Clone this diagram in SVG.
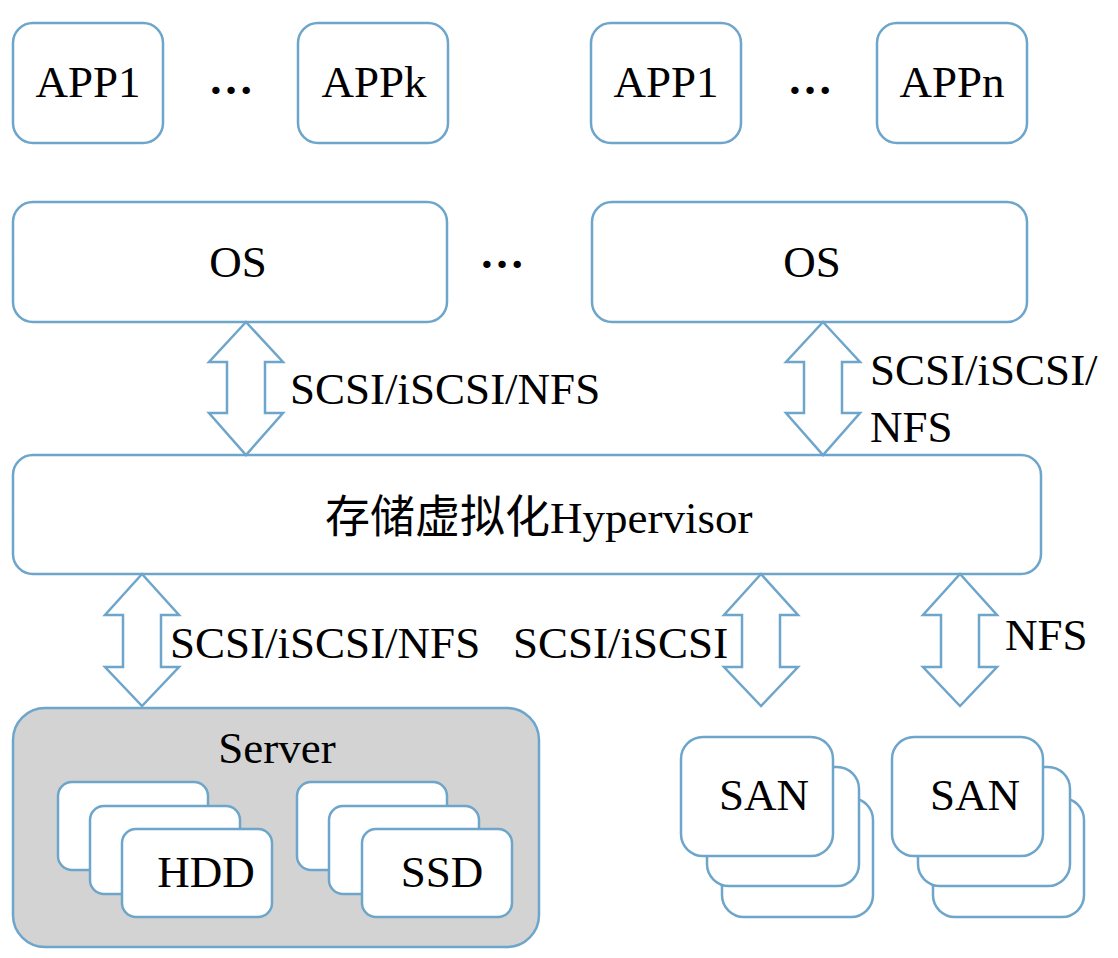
<svg xmlns="http://www.w3.org/2000/svg" width="1118" height="958" viewBox="0 0 1118 958">
<style>
.box{fill:#ffffff;stroke:#6ea5cb;stroke-width:2.5}
.srv{fill:#d3d3d3;stroke:#6ea5cb;stroke-width:2.5}
.arr{fill:#ffffff;stroke:#6ea5cb;stroke-width:2.5;stroke-linejoin:miter}
text{font-family:"Liberation Serif","Noto Sans CJK SC",serif;font-size:45px;fill:#000000}
.m{text-anchor:middle}
.d{font-weight:bold}
</style>
<rect width="1118" height="958" fill="#ffffff"/>
<g id="app1a"><rect class="box" x="13" y="23" width="150" height="120" rx="20"/><text class="m" x="88" y="97">APP1</text></g>
<g id="dots1"><text class="m d" x="231" y="94">…</text></g>
<g id="appk"><rect class="box" x="298" y="23" width="150" height="120" rx="20"/><text class="m" x="374" y="97">APPk</text></g>
<g id="app1b"><rect class="box" x="591" y="23" width="150" height="120" rx="20"/><text class="m" x="666" y="97">APP1</text></g>
<g id="dots2"><text class="m d" x="810" y="94">…</text></g>
<g id="appn"><rect class="box" x="877" y="23" width="150" height="120" rx="20"/><text class="m" x="952" y="97">APPn</text></g>
<g id="os1"><rect class="box" x="13" y="202" width="434" height="120" rx="20"/><text class="m" x="238" y="277">OS</text></g>
<g id="dots3"><text class="m d" x="502" y="268">…</text></g>
<g id="os2"><rect class="box" x="592" y="202" width="435" height="120" rx="20"/><text class="m" x="812" y="277">OS</text></g>
<g id="hypervisor"><rect class="box" x="13" y="455" width="1028" height="119" rx="20"/><text x="325" y="533">存储虚拟化Hypervisor</text></g>
<g id="server">
<rect class="srv" x="13" y="708" width="526" height="239" rx="32"/>
<text class="m" x="277" y="763">Server</text>
<rect class="box" x="58" y="782" width="150" height="88" rx="14"/>
<rect class="box" x="90" y="806" width="150" height="88" rx="14"/>
<rect class="box" x="122" y="829" width="150" height="88" rx="14"/>
<text class="m" x="206" y="887">HDD</text>
<rect class="box" x="297" y="782" width="150" height="88" rx="14"/>
<rect class="box" x="329" y="806" width="150" height="88" rx="14"/>
<rect class="box" x="362" y="829" width="150" height="88" rx="14"/>
<text class="m" x="442" y="887">SSD</text>
</g>
<g id="san1">
<rect class="box" x="722" y="798" width="151" height="119" rx="22"/>
<rect class="box" x="707" y="767" width="152" height="119" rx="22"/>
<rect class="box" x="681" y="737" width="152" height="119" rx="22"/>
<text class="m" x="764" y="810">SAN</text>
</g>
<g id="san2">
<rect class="box" x="933" y="798" width="151" height="119" rx="22"/>
<rect class="box" x="918" y="767" width="152" height="119" rx="22"/>
<rect class="box" x="892" y="737" width="151" height="119" rx="22"/>
<text class="m" x="975" y="810">SAN</text>
</g>
<g id="connectors">
<path class="arr" d="M246,322 L283,362 L265,362 L265,413 L283,413 L246,455 L209,413 L227,413 L227,362 L209,362 Z"/>
<path class="arr" d="M823,322 L860,362 L842,362 L842,413 L860,413 L823,455 L786,413 L804,413 L804,362 L786,362 Z"/>
<path class="arr" d="M142,574 L179,615 L161,615 L161,667 L179,667 L142,706 L105,667 L123,667 L123,615 L105,615 Z"/>
<path class="arr" d="M761,574 L798,615 L780,615 L780,667 L798,667 L761,706 L724,667 L742,667 L742,615 L724,615 Z"/>
<path class="arr" d="M960,574 L997,615 L979,615 L979,667 L997,667 L960,706 L923,667 L941,667 L941,615 L923,615 Z"/>
<text x="290" y="404">SCSI/iSCSI/NFS</text>
<text x="870" y="385">SCSI/iSCSI/</text>
<text x="870" y="442">NFS</text>
<text x="170" y="658">SCSI/iSCSI/NFS</text>
<text x="513" y="658">SCSI/iSCSI</text>
<text x="1005" y="650">NFS</text>
</g>
</svg>
